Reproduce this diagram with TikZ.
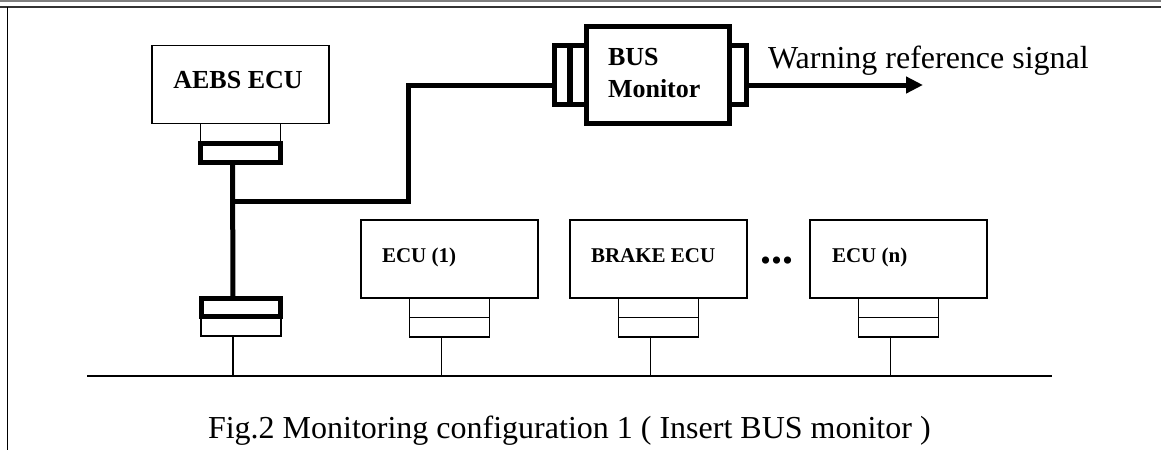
\documentclass[tikz,border=0pt]{standalone}
\usepackage{fontspec}
\setmainfont{Liberation Serif}
\usetikzlibrary{positioning}
\usetikzlibrary{arrows.meta}

\begin{document}
\begin{tikzpicture}[x=1pt, y=-1pt,
every node/.style={inner sep=0, outer sep=0},
box/.style={rectangle, draw=black, line width=1.8pt, minimum width=177pt, minimum height=78pt},
plug/.style={rectangle, draw=black, line width=1.8pt, minimum width=80pt, minimum height=19.5pt},
fatplug/.style={plug, line width=5pt},
mbox/.style={rectangle, draw=black, line width=5pt, minimum height=59pt},
tag/.style={font=\bfseries\fontsize{21pt}{25pt}\selectfont, anchor=base west},
bus/.style={line width=1.8pt},
link/.style={line width=5pt}
]
\useasboundingbox (0,0) rectangle (1161,450);
% frame
\draw[gray, line width=1.5pt] (0,0.75) -- (1161,0.75);
\draw[black!80, line width=1.8pt] (0,7) -- (1161,7);
\draw[line width=1.8pt] (7.5,7) -- (7.5,450);

% AEBS ECU and its plugs
\node [box] (aebs) at (240.5,84.5) {};
\node [font=\bfseries\fontsize{26pt}{30pt}\selectfont, anchor=base] (aebst) at (238,88) {AEBS ECU};
\node [plug, below=0pt of aebs] (aebsp) {};
\node [fatplug, below=0pt of aebsp] (aebsq) {};

% tap onto the bus
\node [fatplug, minimum width=79pt, minimum height=18pt] (lanp) at (241,307.5) {};
\node [plug, below=0pt of lanp] (lanq) {};

% BUS monitor
\node [mbox, minimum width=143pt, minimum height=97pt] (mon) at (658,75) {};
\node [mbox, minimum width=15pt] (monl) at (562,75) {};
\node [mbox, minimum width=16pt] (monm) at (578,75) {};
\node [mbox, minimum width=17pt] (monr) at (738,75) {};
\node [font=\bfseries\fontsize{26pt}{32pt}\selectfont, align=left, anchor=north west] (mont) at (608,47.8) {BUS\\Monitor};
\node [font=\fontsize{32pt}{36pt}\selectfont, anchor=base west] (warn) at (768,68) {Warning reference signal};

% ECUs on the bus
\node [box] (ecu1) at (449.5,259) {};
\node [box, right=32pt of ecu1] (brake) {};
\node [box, right=63pt of brake] (ecun) {};
\node [tag] (ecu1t) at (382,262) {ECU (1)};
\node [tag] (braket) at (591,262) {BRAKE ECU};
\node [tag] (ecunt) at (832,262) {ECU (n)};
\node [font=\bfseries\fontsize{44pt}{48pt}\selectfont, anchor=base west] (dots) at (760,263) {...};
\node [plug, below=0pt of ecu1] (ecu1p) {};
\node [plug, below=0pt of ecu1p] (ecu1q) {};
\node [plug, below=0pt of brake] (brakep) {};
\node [plug, below=0pt of brakep] (brakeq) {};
\node [plug, below=0pt of ecun] (ecunp) {};
\node [plug, below=0pt of ecunp] (ecunq) {};

% wiring
\coordinate (tap) at (233,201);
\coordinate (bend) at (408,85);
\coordinate (out) at (923,85);
\coordinate (busl) at (87,376);
\coordinate (busr) at (1052,376);
\draw[link] ([xshift=-8pt]aebsq.south) -- ([xshift=-8pt]lanp.north);
\draw[link] (tap) -| (bend) -- (bend -| monl.west);
\draw[link, -{Triangle[length=17pt, width=16pt]}] (out -| monr.east) -- (out);
\draw[bus] (busl) -- (busr);
\foreach \p in {lanq, ecu1q, brakeq, ecunq}
  \draw[bus] ([xshift=-8pt]\p.south) -- ([xshift=-8pt]\p.south |- busl);

\node [font=\fontsize{32pt}{36pt}\selectfont, anchor=base west] (caption) at (208,438) {Fig.2 Monitoring configuration 1 ( Insert BUS monitor )};
\end{tikzpicture}
\end{document}
